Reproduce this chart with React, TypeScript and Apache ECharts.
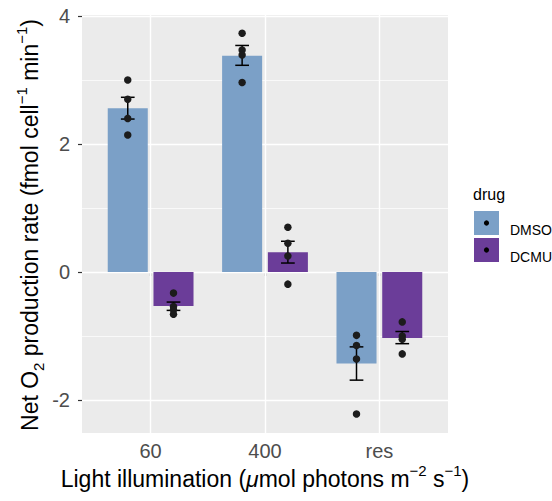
import React, { useEffect, useRef } from "react";
import * as echarts from "echarts";

const categories = ["60", "400", "res"];
const drugs = ["DMSO", "DCMU"];
const dmsoMean = [2.56, 3.38, -1.43];
const dcmuMean = [-0.53, 0.31, -1.03];
const dmsoErrLow = [2.39, 3.23, -1.69];
const dmsoErrHigh = [2.73, 3.54, -1.17];
const dcmuErrLow = [-0.6, 0.14, -1.12];
const dcmuErrHigh = [-0.47, 0.48, -0.93];
const dmsoPoints = [
  [3.0, 2.7, 2.4, 2.14],
  [3.73, 3.47, 3.39, 2.96],
  [-0.99, -1.15, -1.36, -2.22],
];
const dcmuPoints = [
  [-0.33, -0.54, -0.59, -0.66],
  [0.7, 0.45, 0.25, -0.19],
  [-0.78, -1.0, -1.05, -1.28],
];
const yTicks = [-2, 0, 2, 4];
const yMinor = [-1, 1, 3];
const xTicks = [1, 2, 3];

const COLORS = ["#7BA0C7", "#6B3D99"];
const DODGE = 0.2;
const BAR_W = 0.35;
const CAP_W = 0.12;
const FONT = "'Liberation Sans', Arial, Helvetica, sans-serif";

export default function App() {
  const ref = useRef<HTMLDivElement>(null);
  useEffect(() => {
    const chart = echarts.init(ref.current!, null, { renderer: "svg" });
    const means = [dmsoMean, dcmuMean];
    const lows = [dmsoErrLow, dcmuErrLow];
    const highs = [dmsoErrHigh, dcmuErrHigh];
    const pts = [dmsoPoints, dcmuPoints];
    const offs = [-DODGE, DODGE];

    const series: any[] = [];
    drugs.forEach((d, k) => {
      series.push({
        name: d,
        type: "custom",
        z: 2,
        encode: { x: 0, y: 1 },
        data: categories.map((c, i) => [i + 1 + offs[k], means[k][i]]),
        renderItem: (params: any, api: any) => {
          const x = api.value(0);
          const v = api.value(1);
          const a = api.coord([x - BAR_W / 2, v]);
          const b = api.coord([x + BAR_W / 2, 0]);
          return {
            type: "rect",
            shape: {
              x: a[0],
              y: Math.min(a[1], b[1]),
              width: b[0] - a[0],
              height: Math.abs(b[1] - a[1]),
            },
            style: { fill: COLORS[k] },
          };
        },
        markLine:
          k === 0
            ? {
                silent: true,
                z: 1,
                symbol: ["none", "none"],
                label: { show: false },
                emphasis: { disabled: true },
                animation: false,
                data: [
                  ...yMinor.map((v) => ({ yAxis: v, lineStyle: { color: "#fff", width: 0.7, type: "solid" } })),
                  ...yTicks.map((v) => ({ yAxis: v, lineStyle: { color: "#fff", width: 1.4, type: "solid" } })),
                  ...xTicks.map((v) => ({ xAxis: v, lineStyle: { color: "#fff", width: 1.4, type: "solid" } })),
                ],
              }
            : undefined,
      });
    });
    drugs.forEach((d, k) => {
      series.push({
        name: d + "-err",
        type: "custom",
        z: 3,
        encode: { x: 0, y: [1, 2] },
        data: categories.map((c, i) => [i + 1 + offs[k], lows[k][i], highs[k][i]]),
        renderItem: (params: any, api: any) => {
          const x = api.value(0);
          const lo = api.value(1);
          const hi = api.value(2);
          const pLo = api.coord([x, lo]);
          const pHi = api.coord([x, hi]);
          const l1 = api.coord([x - CAP_W / 2, lo]);
          const r1 = api.coord([x + CAP_W / 2, lo]);
          const l2 = api.coord([x - CAP_W / 2, hi]);
          const r2 = api.coord([x + CAP_W / 2, hi]);
          const st = { stroke: "#000", lineWidth: 1.5 };
          return {
            type: "group",
            children: [
              { type: "line", shape: { x1: pLo[0], y1: pLo[1], x2: pHi[0], y2: pHi[1] }, style: st },
              { type: "line", shape: { x1: l1[0], y1: l1[1], x2: r1[0], y2: r1[1] }, style: st },
              { type: "line", shape: { x1: l2[0], y1: l2[1], x2: r2[0], y2: r2[1] }, style: st },
            ],
          };
        },
      });
    });
    drugs.forEach((d, k) => {
      const data: number[][] = [];
      pts[k].forEach((arr, i) => arr.forEach((v) => data.push([i + 1 + offs[k], v])));
      series.push({
        name: d + "-pts",
        type: "scatter",
        z: 4,
        symbol: "circle",
        symbolSize: 7.5,
        itemStyle: { color: "#1c1c1c", opacity: 1 },
        silent: true,
        data,
      });
    });

    const rich = {
      a: { fontSize: 23, lineHeight: 32, fontFamily: FONT, color: "#000" },
      i: { fontSize: 23, lineHeight: 32, fontFamily: FONT, fontStyle: "italic", color: "#000" },
      s: { fontSize: 15, lineHeight: 15, fontFamily: FONT, verticalAlign: "top", color: "#000" },
      b: { fontSize: 15, lineHeight: 15, fontFamily: FONT, verticalAlign: "bottom", color: "#000" },
    };

    const option: any = {
      animation: false,
      grid: {
        left: 82,
        right: 104,
        top: 15,
        bottom: 68,
        show: true,
        backgroundColor: "#EBEBEB",
        borderWidth: 0,
      },
      xAxis: {
        type: "value",
        min: 0.4,
        max: 3.6,
        axisLine: { show: false },
        splitLine: { show: false },
        axisTick: { show: true, length: 4, customValues: xTicks, lineStyle: { color: "#333", width: 1.2 } },
        axisLabel: {
          customValues: xTicks,
          formatter: (v: number) => categories[Math.round(v) - 1] ?? "",
          color: "#4D4D4D",
          fontSize: 20,
          fontFamily: FONT,
          margin: 8,
        },
      },
      yAxis: {
        type: "value",
        min: -2.516,
        max: 4.016,
        axisLine: { show: false },
        splitLine: { show: false },
        axisTick: { show: true, length: 4, customValues: yTicks, lineStyle: { color: "#333", width: 1.2 } },
        axisLabel: {
          customValues: yTicks,
          formatter: (v: number) => String(v),
          color: "#4D4D4D",
          fontSize: 20,
          fontFamily: FONT,
          margin: 12,
        },
      },
      series,
      graphic: [
        {
          type: "text",
          x: 265,
          y: 479,
          style: {
            text: "{a|Light illumination (}{i|μ}{a|mol photons m}{s|−2}{a| s}{s|−1}{a|)}",
            rich,
            align: "center",
            verticalAlign: "middle",
          },
        },
        {
          type: "text",
          x: 30,
          y: 225,
          rotation: Math.PI / 2,
          style: {
            text: "{a|Net O}{b|2}{a| production rate (fmol cell}{s|−1}{a| min}{s|−1}{a|)}",
            rich,
            align: "center",
            verticalAlign: "middle",
          },
        },
        {
          type: "text",
          left: 473,
          top: 186,
          style: { text: "drug", fontSize: 16, fontFamily: FONT, fill: "#000" },
        },
        ...drugs.flatMap((d, k) => [
          {
            type: "rect",
            shape: { x: 474, y: 211 + k * 27, width: 25, height: 24 },
            style: { fill: COLORS[k] },
          },
          {
            type: "circle",
            shape: { cx: 486.5, cy: 223 + k * 27, r: 2.6 },
            style: { fill: "#000" },
          },
          {
            type: "text",
            x: 510,
            y: 230 + k * 27,
            style: { text: d, fontSize: 14, fontFamily: FONT, fill: "#000", verticalAlign: "middle" },
          },
        ]),
      ],
    };
    chart.setOption(option);
    return () => chart.dispose();
  }, []);
  return (
    <div
      ref={ref}
      style={{ position: "fixed", left: 0, top: 0, width: 552, height: 501, background: "#fff" }}
    />
  );
}
